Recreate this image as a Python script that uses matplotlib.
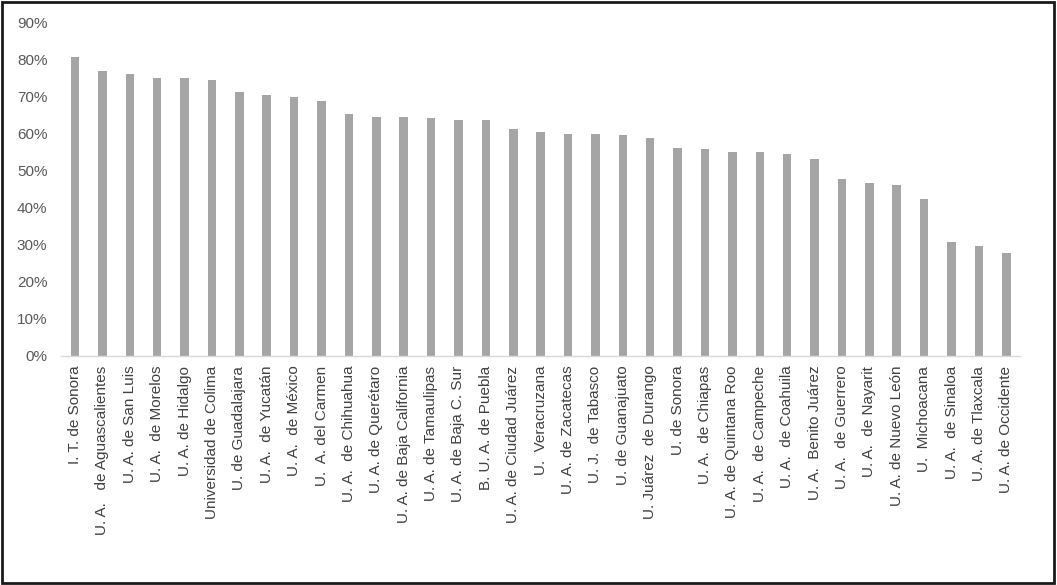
import sys
import numpy as np
import matplotlib
matplotlib.use("Agg")
import matplotlib.pyplot as plt
from matplotlib.patches import Rectangle
from matplotlib.ticker import FuncFormatter


universidades = [
    "I. T. de Sonora", "U. A.   de Aguascalientes", "U. A. de San Luis",
    "U. A.  de Morelos", "U. A. de Hidalgo", "Universidad de Colima",
    "U. de Guadalajara", "U. A.  de Yucatán", "U. A.  de México",
    "U.  A. del Carmen", "U. A.  de Chihuahua", "U. A. de Querétaro",
    "U. A. de Baja California", "U. A. de Tamaulipas", "U. A. de Baja C. Sur",
    "B. U. A. de Puebla", "U. A. de Ciudad Juárez", "U.  Veracruzana",
    "U. A. de Zacatecas", "U. J.  de Tabasco", "U. de Guanajuato",
    "U. Juárez  de Durango", "U. de Sonora", "U. A.  de Chiapas",
    "U. A. de Quintana Roo", "U. A.  de Campeche", "U. A.  de Coahuila",
    "U. A.  Benito Juárez", "U. A.  de Guerrero", "U. A.  de Nayarit",
    "U. A. de Nuevo León", "U.  Michoacana", "U. A.  de Sinaloa",
    "U. A. de Tlaxcala", "U. A. de Occidente",
]

porcentajes = [
    0.809, 0.771, 0.763, 0.750, 0.750, 0.746, 0.712, 0.704, 0.700, 0.688,
    0.654, 0.646, 0.646, 0.642, 0.638, 0.638, 0.613, 0.604, 0.600, 0.600,
    0.596, 0.588, 0.562, 0.558, 0.550, 0.550, 0.545, 0.533, 0.479, 0.466,
    0.463, 0.425, 0.309, 0.296, 0.279,
]

yticks = np.arange(0, 0.91, 0.1)


def main():
    plt.rcParams["font.family"] = ["Liberation Sans", "DejaVu Sans"]
    fig = plt.figure(figsize=(10.57, 5.85), dpi=100)
    ax = fig.add_axes([0.058, 0.3915, 0.907, 0.5695])

    x = np.arange(len(universidades))
    ax.bar(x, porcentajes, width=0.31, color="#a5a5a5", zorder=2)

    ax.set_xlim(-0.5, len(universidades) - 0.5)
    ax.set_ylim(0, 0.9)
    ax.set_yticks(yticks)
    ax.yaxis.set_major_formatter(FuncFormatter(lambda v, p: "{:.0f}%".format(v * 100)))
    ax.set_xticks(x)
    ax.set_xticklabels(universidades, rotation=90, fontsize=11, color="#404040")

    for side in ["top", "right", "left"]:
        ax.spines[side].set_visible(False)
    ax.spines["bottom"].set_color("#d9d9d9")
    ax.spines["bottom"].set_linewidth(1.0)
    ax.tick_params(axis="y", length=0, labelsize=11, labelcolor="#595959", pad=10)
    ax.tick_params(axis="x", length=0, pad=7)

    fig.patches.append(Rectangle((0.002, 0.003), 0.995, 0.994, transform=fig.transFigure,
                                 fill=False, edgecolor="#1a1a1a", linewidth=2.0))

    fig.savefig("out.png", dpi=100, facecolor="white")
    return 0


if __name__ == "__main__":
    sys.exit(main())
